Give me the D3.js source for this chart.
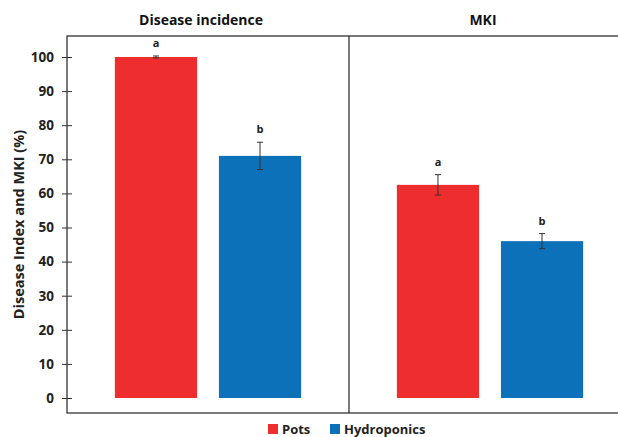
<!DOCTYPE html>
<html>
<head>
<meta charset="utf-8">
<script src="https://cdn.jsdelivr.net/npm/d3@7"></script>
<style>
  body { margin: 0; background: #fff; }
  text { font-family: "Open Sans", "Liberation Sans", sans-serif; font-weight: bold; }
</style>
</head>
<body>
<svg width="618" height="437"></svg>
<script>
// data
var groups = ["Disease incidence", "MKI"];
var series = ["Pots", "Hydroponics"];
var colors = ["#ee2e2e", "#0d71ba"];
var values = [[100, 71], [62.5, 46]];
var errors = [[0.3, 4], [3, 2.2]];
var letters = [["a", "b"], ["a", "b"]];
var yTicks = [0, 10, 20, 30, 40, 50, 60, 70, 80, 90, 100];

var svg = d3.select("svg"),
    mLeft = 67, mRight = 631, mTop = 36, mBottom = 413;

var y = d3.scaleLinear()
    .domain([0, 100])
    .range([398, 57]);

var x0 = d3.scaleBand()
    .domain(groups)
    .range([mLeft, mRight]);

var x1 = d3.scaleBand()
    .domain(series)
    .range([0, x0.bandwidth()])
    .paddingInner(0.21)
    .paddingOuter(0.46);

// frame + divider
svg.append("rect")
    .attr("x", mLeft).attr("y", mTop)
    .attr("width", mRight - mLeft).attr("height", mBottom - mTop)
    .attr("fill", "none").attr("stroke", "#333").attr("stroke-width", 1.3);

svg.append("line")
    .attr("x1", x0("MKI")).attr("x2", x0("MKI"))
    .attr("y1", mTop).attr("y2", mBottom)
    .attr("stroke", "#333").attr("stroke-width", 1.3);

// y axis with ticks crossing the frame
var yAxis = svg.append("g")
    .attr("transform", "translate(" + (mLeft + 5) + ",0)")
    .call(d3.axisLeft(y).tickValues(yTicks).tickSize(10).tickPadding(8));
yAxis.select(".domain").remove();
yAxis.selectAll("line").attr("stroke", "#333");
yAxis.selectAll("text")
    .attr("font-size", 13.5)
    .attr("fill", "#222")
    .attr("x", -18);

svg.append("text")
    .attr("transform", "translate(24," + (mTop + mBottom) / 2 + ") rotate(-90)")
    .attr("text-anchor", "middle")
    .attr("font-size", 14.5)
    .attr("fill", "#222")
    .text("Disease Index and MKI (%)");

// panel titles
svg.selectAll(".title")
    .data(groups)
  .enter().append("text")
    .attr("x", function(d) { return x0(d) + x0.bandwidth() / 2 - 7; })
    .attr("y", 25)
    .attr("text-anchor", "middle")
    .attr("font-size", 14)
    .attr("fill", "#111")
    .text(function(d) { return d; });

groups.forEach(function(g, gi) {
  var gEl = svg.append("g").attr("transform", "translate(" + x0(g) + ",0)");
  series.forEach(function(s, si) {
    var v = values[gi][si], e = errors[gi][si];
    var cx = x1(s) + x1.bandwidth() / 2;
    gEl.append("rect")
        .attr("x", x1(s))
        .attr("y", y(v))
        .attr("width", x1.bandwidth())
        .attr("height", y(0) - y(v))
        .attr("fill", colors[si]);
    gEl.append("line")
        .attr("x1", cx).attr("x2", cx)
        .attr("y1", y(v - e)).attr("y2", y(v + e))
        .attr("stroke", "#333").attr("stroke-width", 1);
    [v - e, v + e].forEach(function(t) {
      gEl.append("line")
          .attr("x1", cx - 3).attr("x2", cx + 3)
          .attr("y1", y(t)).attr("y2", y(t))
          .attr("stroke", "#333").attr("stroke-width", 1);
    });
    gEl.append("text")
        .attr("x", cx)
        .attr("y", y(v + e) - 9)
        .attr("text-anchor", "middle")
        .attr("font-size", 11)
        .attr("fill", "#222")
        .text(letters[gi][si]);
  });
});

// legend
var legend = svg.append("g").attr("transform", "translate(268,424)");
var lx = [0, 62];
series.forEach(function(s, i) {
  legend.append("rect")
      .attr("x", lx[i]).attr("y", 0)
      .attr("width", 10).attr("height", 10)
      .attr("fill", colors[i]);
  legend.append("text")
      .attr("x", lx[i] + 14).attr("y", 10)
      .attr("font-size", 13)
      .attr("fill", "#222")
      .text(s);
});
</script>
</body>
</html>
